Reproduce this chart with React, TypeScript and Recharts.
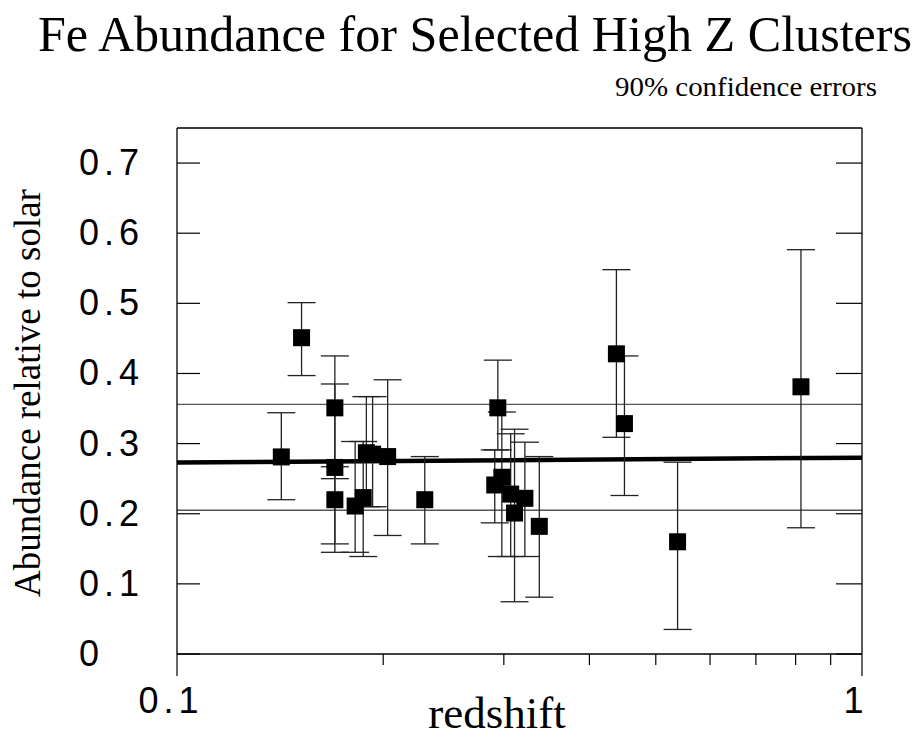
import React from 'react';
import { ComposedChart, Scatter, Line, XAxis, YAxis, ErrorBar, ReferenceLine } from 'recharts';

// ---- data ----
const redshift = [0.142, 0.152, 0.170, 0.170, 0.170, 0.182, 0.187, 0.189, 0.193, 0.203, 0.230, 0.291, 0.294, 0.298, 0.307, 0.311, 0.322, 0.338, 0.438, 0.450, 0.538, 0.8145];
const feAbundance = [0.281, 0.451, 0.351, 0.266, 0.220, 0.211, 0.223, 0.287, 0.285, 0.2815, 0.220, 0.241, 0.351, 0.252, 0.228, 0.201, 0.222, 0.182, 0.428, 0.3285, 0.160, 0.381];
const errLowBound = [0.220, 0.397, 0.157, 0.250, 0.145, 0.145, 0.139, 0.210, 0.210, 0.169, 0.157, 0.187, 0.291, 0.139, 0.139, 0.0745, 0.139, 0.081, 0.309, 0.226, 0.035, 0.180];
const errHighBound = [0.344, 0.501, 0.425, 0.385, 0.267, 0.303, 0.303, 0.367, 0.367, 0.391, 0.2815, 0.291, 0.419, 0.345, 0.314, 0.3205, 0.302, 0.2815, 0.548, 0.425, 0.2735, 0.5765];

const fitRedshift = [0.1, 1];
const fitAbundance = [0.273, 0.280];

const bandLines = [0.356, 0.205];

const xTicks = [0.1, 0.2, 0.3, 0.4, 0.5, 0.6, 0.7, 0.8, 0.9, 1];
const xTickLabels: Record<string, string> = { '0.1': '0.1', '1': '1' };
const yTicks = [0, 0.1, 0.2, 0.3, 0.4, 0.5, 0.6, 0.7];
const yTickLabels = ['0', '0.1', '0.2', '0.3', '0.4', '0.5', '0.6', '0.7'];

const titleText = 'Fe Abundance for Selected High Z Clusters';
const subtitleText = '90% confidence errors';
const xLabel = 'redshift';
const yLabel = 'Abundance relative to solar';

// ---- derived tables ----
const points = redshift.map((z, i) => ({
  z,
  fe: feAbundance[i],
  err: [feAbundance[i] - errLowBound[i], errHighBound[i] - feAbundance[i]],
}));
const fitData = fitRedshift.map((z, i) => ({ z, fe: fitAbundance[i] }));

const SERIF = '"Liberation Serif", "Times New Roman", serif';
const SANS = '"Liberation Sans", Arial, sans-serif';

const Square = (props: any) => {
  const { cx, cy } = props;
  if (cx == null || cy == null) return null;
  const s = 17;
  return <rect x={cx - s / 2} y={cy - s / 2} width={s} height={s} fill="#000" />;
};

const XTick = (props: any) => {
  const { x, y, payload } = props;
  const v = payload.value;
  const key = String(Math.round(v * 10) / 10);
  const label = xTickLabels[key];
  const major = !!label;
  return (
    <g>
      <line x1={x} x2={x} y1={y} y2={y + (major ? 22 : 11)} stroke="#000" strokeWidth={1.2} />
      {label ? (
        <text x={x - 6} y={y + 59} textAnchor="middle" fontFamily={SANS} fontSize={36} letterSpacing={5} fill="#000">
          {label}
        </text>
      ) : null}
    </g>
  );
};

const YTickLeft = (props: any) => {
  const { x, y, index } = props;
  const label = yTickLabels[index];
  return (
    <g>
      <line x1={x} x2={x + 23} y1={y} y2={y} stroke="#000" strokeWidth={1.2} />
      <text x={x - 98} y={y + 12} textAnchor="start" fontFamily={SANS} fontSize={36} letterSpacing={5} fill="#000">
        {label}
      </text>
    </g>
  );
};

const YTickRight = (props: any) => {
  const { x, y } = props;
  return <line x1={x - 26} x2={x} y1={y} y2={y} stroke="#000" strokeWidth={1.2} />;
};

export default function App() {
  return (
    <div style={{ position: 'absolute', left: 0, top: 0, width: 923, height: 744, background: '#fff' }}>
      <ComposedChart
        width={923}
        height={744}
        margin={{ top: 118, right: 41, bottom: 60, left: 117 }}
      >
        <XAxis
          dataKey="z"
          type="number"
          scale="log"
          domain={[0.1, 1]}
          allowDataOverflow
          ticks={xTicks}
          interval={0}
          tick={<XTick />}
          tickLine={false}
          tickSize={0}
          tickMargin={0}
          height={30}
          axisLine={{ stroke: '#000', strokeWidth: 1.3 }}
        />
        <XAxis
          xAxisId="top"
          orientation="top"
          dataKey="z"
          type="number"
          scale="log"
          domain={[0.1, 1]}
          allowDataOverflow
          tick={false}
          tickLine={false}
          height={10}
          axisLine={{ stroke: '#000', strokeWidth: 1.3 }}
        />
        <YAxis
          type="number"
          domain={[0, 0.75]}
          allowDataOverflow
          ticks={yTicks}
          interval={0}
          tick={<YTickLeft />}
          tickLine={false}
          tickSize={0}
          tickMargin={0}
          width={60}
          axisLine={{ stroke: '#000', strokeWidth: 1.3 }}
        />
        <YAxis
          yAxisId="right"
          orientation="right"
          type="number"
          domain={[0, 0.75]}
          allowDataOverflow
          ticks={yTicks}
          interval={0}
          tick={<YTickRight />}
          tickLine={false}
          tickSize={0}
          tickMargin={0}
          width={20}
          axisLine={{ stroke: '#000', strokeWidth: 1.3 }}
        />
        {bandLines.map((v) => (
          <ReferenceLine key={v} y={v} stroke="#555" strokeWidth={1.3} />
        ))}
        <Line
          data={fitData}
          dataKey="fe"
          stroke="#000"
          strokeWidth={4.5}
          dot={false}
          activeDot={false}
          isAnimationActive={false}
          legendType="none"
        />
        <Scatter data={points} dataKey="fe" shape={<Square />} isAnimationActive={false}>
          <ErrorBar dataKey="err" direction="y" width={14} stroke="#222" strokeWidth={1.3} />
        </Scatter>
      </ComposedChart>
      <svg width={923} height={744} style={{ position: 'absolute', left: 0, top: 0, pointerEvents: 'none' }}>
        <text x={475} y={51} textAnchor="middle" fontFamily={SERIF} fontSize={50} textLength={874} lengthAdjust="spacingAndGlyphs" fill="#000">
          {titleText}
        </text>
        <text x={877} y={96} textAnchor="end" fontFamily={SERIF} fontSize={27} textLength={262} lengthAdjust="spacingAndGlyphs" fill="#000">
          {subtitleText}
        </text>
        <text x={497} y={728} textAnchor="middle" fontFamily={SERIF} fontSize={45} fill="#000">
          {xLabel}
        </text>
        <text
          x={40}
          y={393}
          textAnchor="middle"
          fontFamily={SERIF}
          fontSize={37}
          fill="#000"
          transform="rotate(-90, 40, 393)"
        >
          {yLabel}
        </text>
      </svg>
    </div>
  );
}
